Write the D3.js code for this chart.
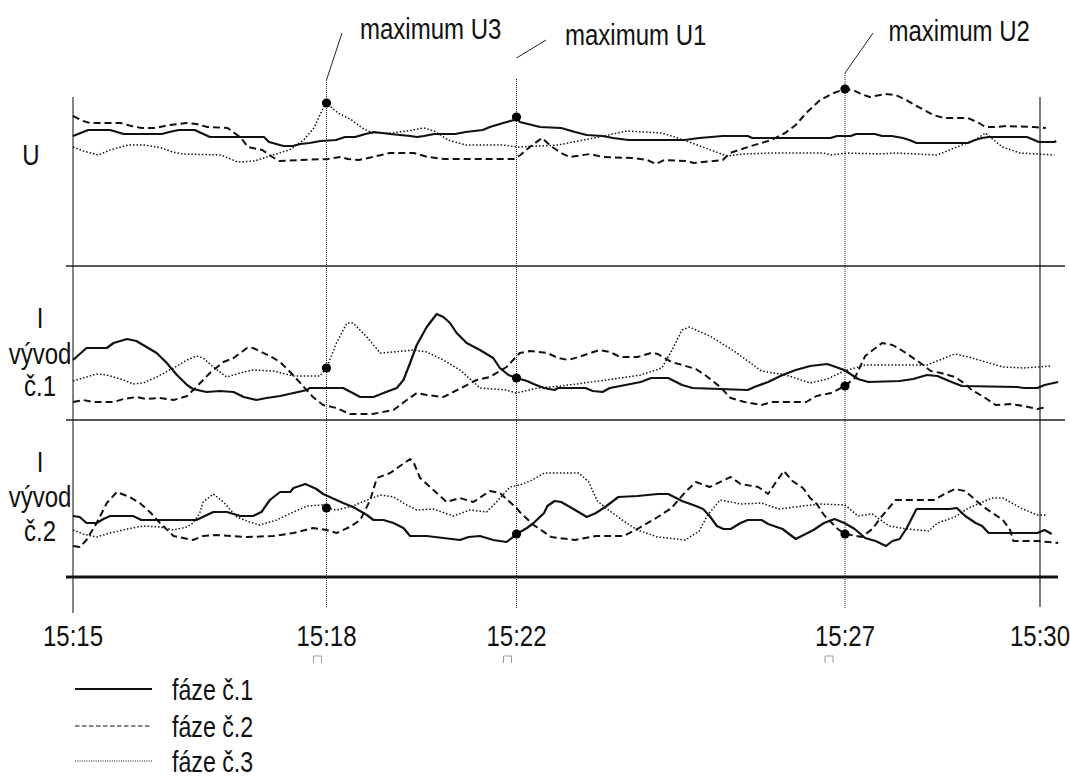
<!DOCTYPE html>
<html><head><meta charset="utf-8">
<script src="https://cdn.jsdelivr.net/npm/d3@7"></script>
<style>body{margin:0;background:#fff}svg{display:block}text{font-family:"Liberation Sans",Arial,sans-serif;fill:#111}</style>
</head><body><svg id="c" width="1070" height="778"></svg>
<script>
// time in minutes after 15:15
const timeTicks = [0, 3, 7, 12, 15];
const tickLabels = ["15:15", "15:18", "15:22", "15:27", "15:30"];
const markerTimes = [3, 7, 12];
const markerPhase = [2, 0, 1]; // phase whose maximum is marked at each marker time
const annotationLabels = ["maximum U3", "maximum U1", "maximum U2"];
const panelLabels = [["U"], ["I", "vývod", "č.1"], ["I", "vývod", "č.2"]];
const seriesNames = ["fáze č.1", "fáze č.2", "fáze č.3"];

// Voltage U (relative units), phases 1..3 : [minute, value]
const U_f1 = [[0,130],[0.18,136],[0.44,136],[0.60,132],[1.05,132],[1.14,134],[1.25,136],[1.44,136],[1.62,129],[2.26,129],[2.32,124],[2.49,120],[2.60,120],[2.69,122],[2.80,123],[2.93,125],[3.20,126],[3.39,129],[3.60,129],[3.82,132],[4.00,134],[4.34,132],[4.55,131],[4.76,130],[4.91,129],[5.05,130],[5.27,132],[5.71,132],[5.93,134],[6.29,136],[6.44,139],[6.72,143],[6.95,146],[7.00,149],[7.05,144],[7.36,139],[7.68,138],[7.89,134],[8.07,131],[8.31,130],[8.47,128],[8.70,126],[9.56,126],[9.78,128],[10.14,130],[10.52,130],[10.59,128],[11.78,128],[11.88,130],[12.09,130],[12.17,132],[12.46,132],[12.57,130],[12.72,130],[12.89,128],[12.99,126],[13.10,123],[13.89,123],[14.00,126],[14.11,128],[14.21,129],[14.80,129],[14.91,126],[14.98,124],[15.22,124],[15.25,125]];
const U_f2 = [[0,150],[0.12,145],[0.20,143],[0.56,143],[0.69,140],[0.81,138],[0.97,138],[1.14,141],[1.34,143],[1.46,142],[1.59,139],[1.83,138],[1.91,133],[1.99,128],[2.07,119],[2.24,116],[2.36,109],[2.44,105],[2.69,106],[3.02,107],[3.31,109],[3.45,107],[3.68,106],[3.97,109],[4.33,113],[4.84,113],[5.13,109],[5.49,107],[6.94,107],[7.06,111],[7.22,120],[7.39,128],[7.52,120],[7.68,113],[7.81,109],[8.12,112],[8.31,109],[8.78,108],[8.99,106],[9.12,102],[9.25,106],[9.57,105],[9.70,103],[10.14,106],[10.25,113],[10.57,120],[10.88,126],[11.09,133],[11.25,141],[11.41,153],[11.62,166],[11.83,173],[12.00,177],[12.12,176],[12.25,172],[12.38,169],[12.62,172],[12.78,171],[12.94,166],[13.10,160],[13.36,151],[13.52,148],[13.89,148],[14.06,143],[14.16,139],[14.32,139],[14.48,140],[14.91,139],[15.09,138]];
const U_f3 = [[0,119],[0.12,115],[0.30,111],[0.44,116],[0.65,121],[0.85,121],[1.05,118],[1.18,114],[1.30,112],[1.75,111],[1.95,104],[2.15,105],[2.36,111],[2.56,116],[2.73,126],[2.85,138],[2.95,156],[3.00,163],[3.24,153],[3.53,146],[3.75,138],[3.97,133],[4.40,133],[4.69,135],[5.05,138],[5.27,135],[5.56,126],[5.93,121],[6.72,121],[7.01,119],[7.37,120],[7.63,121],[8.26,129],[8.68,135],[9.20,133],[9.41,129],[9.67,123],[10.04,114],[10.20,110],[10.46,112],[10.88,113],[11.67,113],[11.78,111],[12.04,113],[12.52,112],[12.78,113],[13.42,111],[13.68,118],[14.00,126],[14.16,133],[14.42,119],[14.69,113],[15.22,111]];

// Current I, vývod č.1
const I1_f1 = [[0,60],[0.04,63],[0.16,72],[0.40,72],[0.48,77],[0.64,81],[0.75,79],[0.87,73],[0.99,67],[1.11,57],[1.23,45],[1.35,35],[1.42,31],[1.58,28],[1.74,29],[1.90,28],[2.02,23],[2.17,20],[2.29,22],[2.45,24],[2.61,27],[2.77,30],[2.80,32],[3.35,32],[3.71,23],[3.99,23],[4.20,27],[4.48,32],[4.62,40],[4.76,57],[4.90,75],[5.11,93],[5.32,106],[5.46,103],[5.60,97],[5.74,87],[5.95,77],[6.23,70],[6.51,62],[6.65,52],[6.83,45],[7.00,42],[7.16,39],[7.26,36],[7.42,32],[7.58,30],[7.63,32],[8.05,32],[8.16,29],[8.31,28],[8.42,32],[8.58,34],[8.89,38],[9.05,42],[9.31,42],[9.52,35],[9.68,32],[10.52,30],[10.62,33],[10.83,38],[11.05,45],[11.25,50],[11.47,54],[11.73,56],[11.99,50],[12.20,41],[12.36,38],[12.84,39],[13.05,41],[13.26,45],[13.42,44],[13.64,38],[13.80,34],[14.65,33],[14.75,32],[14.96,32],[15.07,35],[15.28,38]];
const I1_f2 = [[0,18],[0.12,20],[0.24,18],[0.48,18],[0.60,21],[0.75,23],[0.87,21],[1.03,22],[1.19,20],[1.35,24],[1.46,33],[1.62,47],[1.78,58],[1.90,62],[2.06,72],[2.13,72],[2.33,64],[2.45,58],[2.57,48],[2.69,37],[2.84,23],[2.96,15],[3.21,12],[3.49,6],[3.97,6],[4.41,10],[4.69,20],[4.90,27],[5.11,25],[5.46,23],[5.67,28],[6.16,40],[6.44,43],[6.79,53],[7.05,67],[7.21,69],[7.47,67],[7.63,62],[7.79,60],[7.99,64],[8.26,70],[8.42,68],[8.58,63],[8.84,63],[9.05,67],[9.15,66],[9.36,58],[9.52,55],[9.73,51],[9.89,44],[10.10,33],[10.26,22],[10.47,18],[10.73,15],[10.89,18],[11.41,18],[11.57,24],[11.79,27],[12.00,34],[12.15,42],[12.31,64],[12.57,77],[12.73,75],[12.89,69],[13.16,57],[13.32,49],[13.48,47],[13.69,43],[13.85,36],[13.95,30],[14.16,22],[14.32,15],[14.54,16],[14.75,14],[14.96,11],[15.10,13]];
const I1_f3 = [[0,39],[0.12,42],[0.28,46],[0.40,45],[0.60,40],[0.71,36],[0.83,37],[0.99,43],[1.19,52],[1.35,60],[1.46,64],[1.54,62],[1.66,53],[1.82,43],[1.98,47],[2.13,50],[2.37,49],[2.61,44],[2.92,44],[3.00,52],[3.21,77],[3.43,97],[3.56,97],[3.85,83],[4.13,67],[4.41,68],[4.83,70],[5.11,68],[5.46,60],[5.81,50],[6.23,32],[6.79,30],[7.00,27],[7.32,32],[7.68,34],[8.37,40],[8.89,45],[9.21,52],[9.36,69],[9.52,90],[9.63,93],[9.94,84],[10.31,69],[10.73,49],[11.10,45],[11.47,37],[11.73,41],[11.99,49],[12.31,55],[13.26,55],[13.69,66],[13.90,63],[14.43,53],[14.75,52],[15.18,54]];

// Current I, vývod č.2
const I2_f1 = [[0,61],[0.08,60],[0.16,54],[0.28,54],[0.36,58],[0.44,61],[0.71,61],[0.81,57],[1.46,57],[1.66,65],[1.82,65],[1.98,61],[2.13,61],[2.23,65],[2.33,77],[2.45,85],[2.57,85],[2.61,89],[2.75,93],[2.88,88],[2.96,83],[3.35,74],[3.56,70],[3.85,62],[3.99,57],[4.20,57],[4.41,54],[4.62,49],[4.76,41],[5.11,41],[5.81,37],[5.99,40],[6.23,41],[6.51,37],[6.79,35],[6.90,39],[7.00,43],[7.16,49],[7.26,54],[7.34,59],[7.42,64],[7.47,71],[7.58,76],[7.68,75],[7.84,69],[7.97,64],[8.07,60],[8.21,64],[8.37,71],[8.47,76],[8.55,80],[8.84,81],[9.15,83],[9.31,83],[9.52,76],[9.73,71],[9.84,68],[9.94,61],[10.05,51],[10.15,48],[10.26,48],[10.41,54],[10.52,57],[10.73,57],[10.83,53],[11.05,48],[11.25,38],[11.52,47],[11.68,54],[11.84,58],[11.99,54],[12.15,48],[12.31,39],[12.47,36],[12.63,31],[12.73,36],[12.84,38],[12.95,49],[13.10,68],[13.61,68],[13.72,69],[13.85,61],[14.01,54],[14.11,51],[14.21,44],[14.96,44],[15.07,47],[15.18,43]];
const I2_f2 = [[0,31],[0.08,30],[0.16,37],[0.28,54],[0.40,74],[0.52,85],[0.67,80],[0.79,74],[0.91,65],[1.03,54],[1.19,41],[1.42,37],[1.54,41],[1.70,42],[2.06,40],[2.37,41],[2.61,44],[2.84,49],[3.00,47],[3.21,44],[3.49,50],[3.71,57],[3.92,77],[4.06,99],[4.34,104],[4.76,118],[4.83,115],[4.97,99],[5.25,87],[5.53,75],[5.81,79],[6.09,75],[6.44,86],[6.65,84],[7.00,69],[7.05,65],[7.26,52],[7.53,40],[7.89,37],[8.21,41],[8.63,41],[8.84,48],[9.15,60],[9.36,69],[9.57,85],[9.73,95],[9.94,90],[10.26,100],[10.41,93],[10.68,90],[10.83,83],[10.94,94],[11.07,106],[11.20,96],[11.36,89],[11.47,79],[11.57,73],[11.68,62],[11.89,48],[12.00,43],[12.26,40],[12.42,48],[12.57,61],[12.78,77],[13.37,77],[13.53,83],[13.69,88],[13.85,86],[14.11,71],[14.43,57],[14.54,47],[14.59,36],[14.96,36],[15.28,34]];
const I2_f3 = [[0,47],[0.12,43],[0.28,40],[0.44,44],[0.64,48],[0.83,51],[1.03,50],[1.19,47],[1.35,50],[1.42,54],[1.50,64],[1.54,75],[1.66,83],[1.78,75],[1.94,60],[2.09,55],[2.21,52],[2.41,57],[2.61,65],[2.77,71],[2.96,72],[3.00,69],[3.21,67],[3.56,71],[3.85,77],[4.13,82],[4.41,80],[4.69,72],[4.90,67],[5.25,68],[5.67,61],[6.02,67],[6.37,65],[6.58,75],[6.86,90],[7.05,92],[7.21,96],[7.42,104],[7.95,104],[8.10,95],[8.23,76],[8.42,66],[8.63,56],[8.84,47],[9.15,40],[9.57,37],[9.78,46],[9.91,62],[10.10,77],[10.41,73],[10.73,74],[10.99,68],[11.36,71],[11.62,73],[12.00,72],[12.20,61],[12.42,63],[12.68,51],[12.95,48],[13.29,46],[13.42,54],[13.69,60],[13.90,69],[14.26,79],[14.43,79],[14.70,69],[14.96,62],[15.10,62]];

const svg = d3.select("#c");
const x = d3.scaleLinear().domain(timeTicks).range([73, 326.5, 516.5, 845, 1040]);

const panels = [
  { labels: panelLabels[0], series: [U_f1, U_f2, U_f3], y: d3.scaleLinear().domain([0, 170]).range([266, 96]), lab: {x: 31, ys: [165]} },
  { labels: panelLabels[1], series: [I1_f1, I1_f2, I1_f3], y: d3.scaleLinear().domain([0, 154]).range([420, 266]), lab: {x: 40, ys: [328, 364, 396]} },
  { labels: panelLabels[2], series: [I2_f1, I2_f2, I2_f3], y: d3.scaleLinear().domain([0, 157]).range([577, 420]), lab: {x: 40, ys: [472, 507, 541]} }
];

const styles = [
  { w: 2.2, dash: null },
  { w: 2, dash: "7,4" },
  { w: 1.5, dash: "1.5,2" }
];
const legendStyles = [
  { w: 2, dash: null },
  { w: 1, dash: "4.5,2.5" },
  { w: 1, dash: "1,1.3" }
];
const FONT = 30, SX = 0.8;

function valueAt(d, t) {
  const i = d3.bisector(p => p[0]).left(d, t);
  if (i <= 0) return d[0][1];
  if (i >= d.length) return d[d.length - 1][1];
  const a = d[i - 1], b = d[i];
  if (b[0] === t) return b[1];
  return a[1] + (b[1] - a[1]) * (t - a[0]) / (b[0] - a[0]);
}

function label(g, str, px, py, size, sx, anchor) {
  g.append("text")
    .attr("transform", `translate(${px},${py}) scale(${sx},1)`)
    .attr("font-size", size)
    .attr("text-anchor", anchor || "start")
    .text(str);
}

// frame
const frame = svg.append("g");
frame.append("line").attr("x1", x(0)).attr("x2", x(0)).attr("y1", 97).attr("y2", 613).attr("stroke", "#333").attr("stroke-width", 1.2);
frame.append("line").attr("x1", x(15)).attr("x2", x(15)).attr("y1", 97).attr("y2", 607).attr("stroke", "#222").attr("stroke-width", 1.2);
[266, 420].forEach(yy => frame.append("line").attr("x1", 66).attr("x2", 1065).attr("y1", yy).attr("y2", yy).attr("stroke", "#222").attr("stroke-width", 1.4));
frame.append("line").attr("x1", 66).attr("x2", 1058).attr("y1", 577).attr("y2", 577).attr("stroke", "#111").attr("stroke-width", 3);

// marker verticals + leaders
const vTops = [80, 79, 73];
const leaders = [[80, 15.5, 33], [58, 29.5, 40], [73, 28, 33]];
const annPos = [[33.5, 39], [48.5, 45], [43.5, 41]];
markerTimes.forEach((t, i) => {
  frame.append("line").attr("x1", x(t)).attr("x2", x(t)).attr("y1", vTops[i]).attr("y2", 608)
    .attr("stroke", "#222").attr("stroke-width", 1).attr("stroke-dasharray", "1,1");
  frame.append("line").attr("x1", x(t)).attr("y1", leaders[i][0]).attr("x2", x(t) + leaders[i][1]).attr("y2", leaders[i][2])
    .attr("stroke", "#222").attr("stroke-width", 1);
  label(svg, annotationLabels[i], x(t) + annPos[i][0], annPos[i][1], FONT, SX, "start");
});

// series
panels.forEach(p => {
  const line = d3.line().x(d => x(d[0])).y(d => p.y(d[1]));
  p.series.forEach((s, k) => {
    svg.append("path").datum(s).attr("d", line).attr("fill", "none")
      .attr("stroke", "#111").attr("stroke-width", styles[k].w)
      .attr("stroke-dasharray", styles[k].dash).attr("stroke-linejoin", "round");
  });
  markerTimes.forEach((t, i) => {
    svg.append("circle").attr("cx", x(t)).attr("cy", p.y(valueAt(p.series[markerPhase[i]], t)))
      .attr("r", 4.6).attr("fill", "#000");
  });
  p.labels.forEach((l, j) => label(svg, l, p.lab.x, p.lab.ys[j], FONT, SX, "middle"));
});

// time axis labels
timeTicks.forEach((t, i) => {
  label(svg, tickLabels[i], x(t), 646, FONT, SX, "middle");
});
// small grey boxes below marker tick labels
const boxOff = [-13, -13, -20];
markerTimes.forEach((t, i) => {
  const bx = x(t) + boxOff[i];
  svg.append("path").attr("d", `M${bx},663V656H${bx + 8}V663`).attr("fill", "none").attr("stroke", "#999").attr("stroke-width", 1);
});

// legend
const legY = [689, 726, 761];
seriesNames.forEach((n, k) => {
  svg.append("line").attr("x1", 75).attr("x2", 152).attr("y1", legY[k]).attr("y2", legY[k])
    .attr("stroke", "#111").attr("stroke-width", legendStyles[k].w).attr("stroke-dasharray", legendStyles[k].dash);
  label(svg, n, 172, legY[k] + 11, 29, SX, "start");
});
</script></body></html>
